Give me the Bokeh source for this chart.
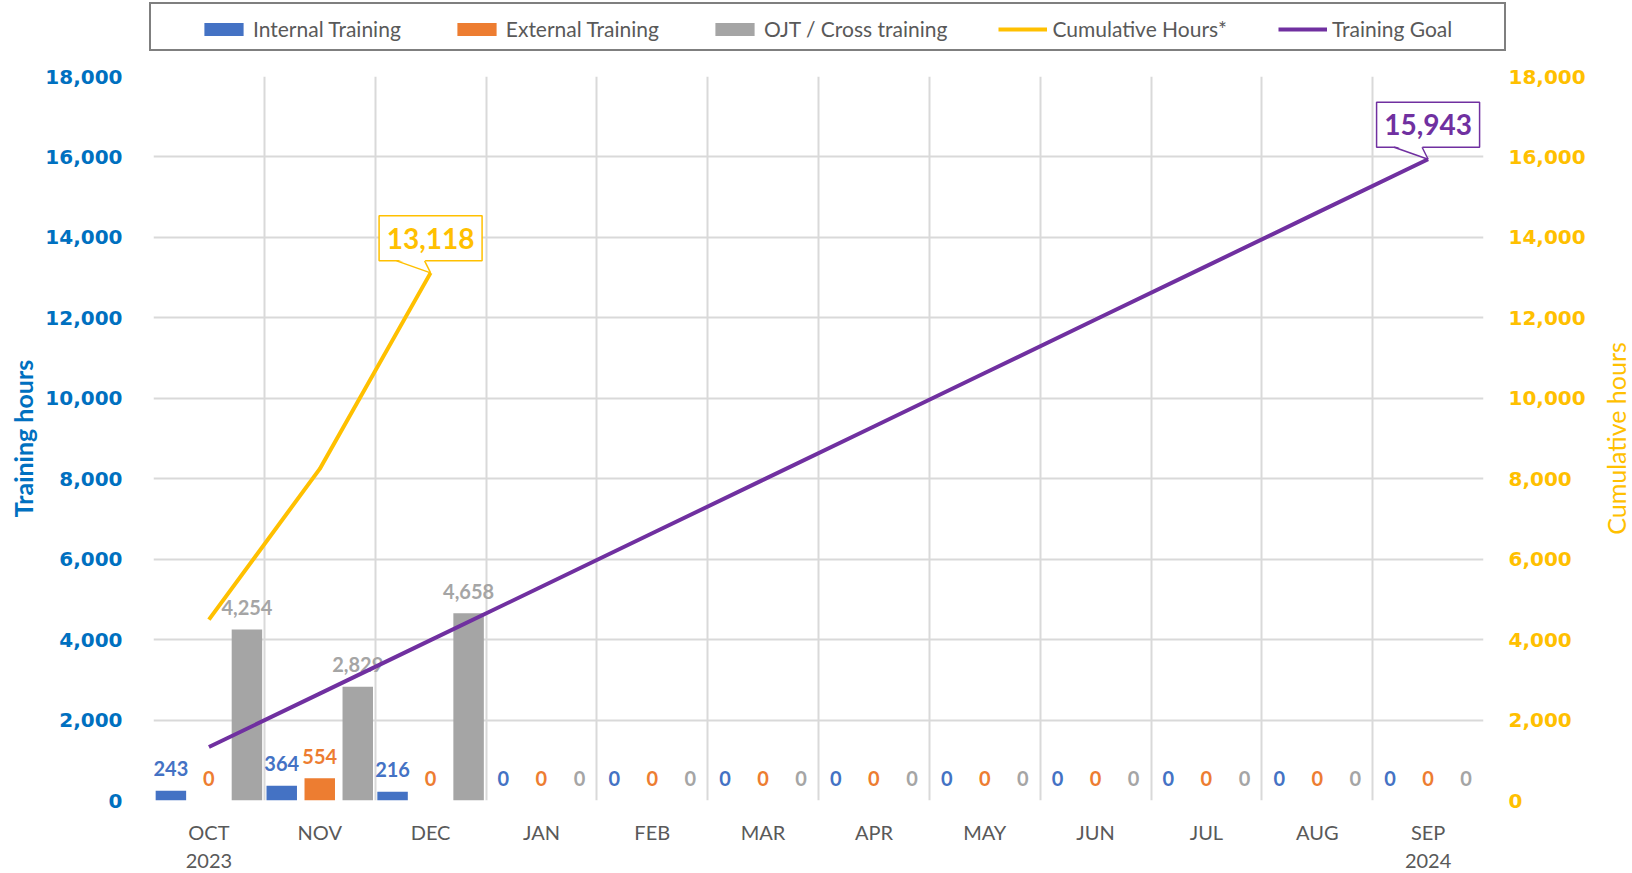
import math
from bokeh.plotting import figure
from bokeh.layouts import column, row
from bokeh.models import (Range1d, LinearAxis, FixedTicker, NumeralTickFormatter,
                          Legend, LegendItem)
from bokeh.core.properties import value
from bokeh.embed import file_html
from bokeh.resources import INLINE

# ---------------- data ----------------
months = ["OCT", "NOV", "DEC", "JAN", "FEB", "MAR", "APR", "MAY", "JUN", "JUL", "AUG", "SEP"]
year_labels = {0: "2023", 11: "2024"}
internal = [243, 364, 216, 0, 0, 0, 0, 0, 0, 0, 0, 0]
external = [0, 554, 0, 0, 0, 0, 0, 0, 0, 0, 0, 0]
ojt = [4254, 2829, 4658, 0, 0, 0, 0, 0, 0, 0, 0, 0]
cumulative = [4497, 8244, 13118]
goal = [1329, 2657, 3986, 5314, 6643, 7972, 9300, 10629, 11957, 13286, 14615, 15943]
y_ticks = [0, 2000, 4000, 6000, 8000, 10000, 12000, 14000, 16000, 18000]
series_names = ["Internal Training", "External Training", "OJT / Cross training",
                "Cumulative Hours*", "Training Goal"]

# ---------------- styling / layout ----------------
C_INT, C_EXT, C_OJT = "#4472C4", "#ED7D31", "#A5A5A5"
C_CUM, C_GOAL = "#FFC000", "#7030A0"
C_LEFT = "#0070C0"
GRID = "#D9D9D9"
TXT = "#595959"
FONT = "Lato"
NAN = float("nan")

TOTAL_W, TOTAL_H = 1632, 873
LEG_H = 58
MAIN_W, MAIN_H = 1592, TOTAL_H - LEG_H
SIDE_W = TOTAL_W - MAIN_W
BL, BR, BT, BB = 153, 109, 18, 73
FW, FH = MAIN_W - BL - BR, MAIN_H - BT - BB
YMAX = 18000
NX = len(months)
px_x = NX / FW
px_y = YMAX / FH

p = figure(width=MAIN_W, height=MAIN_H, x_range=Range1d(0, NX), y_range=Range1d(0, YMAX),
           output_backend="svg", toolbar_location=None,
           min_border_left=BL, min_border_right=BR, min_border_top=BT, min_border_bottom=BB)
p.outline_line_color = None
p.background_fill_color = "white"
p.border_fill_color = "white"

# grids
p.xgrid.ticker = FixedTicker(ticks=list(range(NX + 1)))
p.ygrid.ticker = FixedTicker(ticks=y_ticks)
for g in (p.xgrid, p.ygrid):
    g.grid_line_color = GRID
    g.grid_line_width = 2

# left axis
ya = p.yaxis[0]
ya.ticker = FixedTicker(ticks=y_ticks)
ya.formatter = NumeralTickFormatter(format="0,0")
ya.axis_line_color = None
ya.major_tick_line_color = None
ya.minor_tick_line_color = None
ya.major_label_text_font = "DejaVu Sans"
ya.major_label_text_font_style = "bold"
ya.major_label_text_font_size = "20px"
ya.major_label_text_color = C_LEFT
ya.major_label_standoff = 25
ya.axis_label = "Training hours"
ya.axis_label_text_font = FONT
ya.axis_label_text_font_style = "bold"
ya.axis_label_text_font_size = "25px"
ya.axis_label_text_color = C_LEFT
ya.axis_label_standoff = 4

# right axis (ticks only; its title is drawn in the side figure)
p.extra_y_ranges = {"cum": Range1d(0, YMAX)}
ra = LinearAxis(y_range_name="cum", ticker=FixedTicker(ticks=y_ticks),
                formatter=NumeralTickFormatter(format="0,0"))
ra.axis_line_color = None
ra.major_tick_line_color = None
ra.minor_tick_line_color = None
ra.major_label_text_font = "DejaVu Sans"
ra.major_label_text_font_style = "bold"
ra.major_label_text_font_size = "20px"
ra.major_label_text_color = C_CUM
ra.major_label_standoff = 19
p.add_layout(ra, "right")

# month axis
centers = [i + 0.5 for i in range(NX)]
xa = p.xaxis[0]
xa.ticker = FixedTicker(ticks=centers)
xa.major_label_overrides = {c: m for c, m in zip(centers, months)}
xa.axis_line_color = None
xa.major_tick_line_color = None
xa.minor_tick_line_color = None
xa.major_label_text_font = FONT
xa.major_label_text_font_size = "20px"
xa.major_label_text_color = TXT
xa.major_label_standoff = 13

# year axis
yr_ticks = [centers[i] for i in year_labels]
ya2 = LinearAxis(ticker=FixedTicker(ticks=yr_ticks),
                 major_label_overrides={centers[i]: t for i, t in year_labels.items()})
ya2.axis_line_color = None
ya2.major_tick_line_color = None
ya2.minor_tick_line_color = None
ya2.major_label_text_font = FONT
ya2.major_label_text_font_size = "20px"
ya2.major_label_text_color = TXT
ya2.major_label_standoff = 1
p.add_layout(ya2, "below")

# bars
OFF = 0.343
BW = 0.275
series = [(internal, -OFF, C_INT), (external, 0.0, C_EXT), (ojt, OFF, C_OJT)]
for vals, off, col in series:
    xs = [c + off for c in centers]
    p.vbar(x=xs, top=vals, width=BW, fill_color=col, line_color=None)

# bar labels
for vals, off, col in series:
    xs = [c + off for c in centers]
    p.text(x=xs, y=vals, text=[f"{v:,}" for v in vals],
           text_align="center", text_baseline="middle", y_offset=-22,
           text_font=value(FONT), text_font_style="bold", text_font_size="20px",
           text_color=col)

# lines
p.line(x=centers[:len(cumulative)], y=cumulative, y_range_name="cum",
       line_color=C_CUM, line_width=4)
p.line(x=centers, y=goal, line_color=C_GOAL, line_width=4)

# callouts
def callout(xv, yv, txt, col):
    bw, bh, gap = 103, 45, 12
    yc = yv + (gap + bh / 2) * px_y
    xl, xr = xv - 34 * px_x, xv - 6 * px_x
    yb = yv + gap * px_y
    p.rect(x=[xv], y=[yc], width=[bw], height=[bh], width_units="screen",
           height_units="screen", fill_color="white", line_color=col, line_width=1.5)
    p.patch(x=[xl, xr, xv], y=[yb + 1.5 * px_y, yb + 1.5 * px_y, yv],
            fill_color="white", line_color=None)
    p.multi_line(xs=[[xl, xv], [xr, xv]], ys=[[yb, yv], [yb, yv]],
                 line_color=col, line_width=1.5)
    p.text(x=[xv], y=[yc], text=[txt], text_align="center", text_baseline="middle",
           text_font=value(FONT), text_font_style="bold", text_font_size="28px",
           text_color=col)

last = len(cumulative) - 1
callout(centers[last], cumulative[last], f"{cumulative[last]:,}", C_CUM)
callout(centers[-1], goal[-1], f"{goal[-1]:,}", C_GOAL)

# ---------------- side figure: right axis title ----------------
side = figure(width=SIDE_W, height=MAIN_H, x_range=Range1d(0, SIDE_W), y_range=Range1d(0, YMAX),
              output_backend="svg", toolbar_location=None,
              x_axis_location=None, y_axis_location=None,
              min_border_left=0, min_border_right=0, min_border_top=BT, min_border_bottom=BB)
side.outline_line_color = None
side.grid.visible = False
side.text(x=[23], y=[YMAX / 2], text=["Cumulative hours"], angle=math.pi / 2,
          text_align="center", text_baseline="middle",
          text_font=value(FONT), text_font_size="25px", text_color=C_CUM)

# ---------------- legend figure ----------------
lf = figure(width=TOTAL_W, height=LEG_H, x_range=Range1d(0, 1), y_range=Range1d(0, 1),
            output_backend="svg", toolbar_location=None,
            x_axis_location=None, y_axis_location=None,
            min_border_left=0, min_border_right=0, min_border_top=0, min_border_bottom=0)
lf.outline_line_color = None
lf.grid.visible = False
# empty proxies that carry the legend swatch styles
d_int = lf.vbar(x=[NAN], top=[NAN], width=0.1, fill_color=C_INT, line_color=None)
d_ext = lf.vbar(x=[NAN], top=[NAN], width=0.1, fill_color=C_EXT, line_color=None)
d_ojt = lf.vbar(x=[NAN], top=[NAN], width=0.1, fill_color=C_OJT, line_color=None)
d_cum = lf.line(x=[NAN, NAN], y=[NAN, NAN], line_color=C_CUM, line_width=4)
d_goal = lf.line(x=[NAN, NAN], y=[NAN, NAN], line_color=C_GOAL, line_width=4)
d_inv = lf.rect(x=[NAN], y=[NAN], width=0, height=0, fill_alpha=0, line_alpha=0)

LEG_BOX_X, LEG_BOX_W, LEG_BOX_BOTTOM = 149, 1353, 51
LEG_PAD = 10
GLW = 49
STAND = 5
ITEM_H = 25

def style_leg(lg):
    lg.orientation = "horizontal"
    lg.glyph_width = GLW
    lg.glyph_height = 16
    lg.label_height = ITEM_H
    lg.label_standoff = STAND
    lg.label_text_font = FONT
    lg.label_text_font_size = "21px"
    lg.label_text_color = TXT
    lg.margin = 0

frame_leg = Legend(items=[LegendItem(label=" ", renderers=[d_inv])],
                   location=(LEG_BOX_X, LEG_H - LEG_BOX_BOTTOM))
style_leg(frame_leg)
frame_leg.padding = LEG_PAD
frame_leg.border_line_color = "black"
frame_leg.border_line_width = 2
frame_leg.background_fill_color = "white"
frame_leg.label_width = LEG_BOX_W - 2 * LEG_PAD - GLW - STAND
lf.add_layout(frame_leg, "center")

items_leg = Legend(items=[LegendItem(label=n, renderers=[r]) for n, r in
                          zip(series_names, [d_int, d_ext, d_ojt, d_cum, d_goal])],
                   location=(199, LEG_H - LEG_BOX_BOTTOM + LEG_PAD))
style_leg(items_leg)
items_leg.padding = 0
items_leg.border_line_color = None
items_leg.background_fill_alpha = 0
items_leg.spacing = 51
lf.add_layout(items_leg, "center")

layout = column(lf, row(p, side))
open("out.html", "w").write(file_html(layout, INLINE))
